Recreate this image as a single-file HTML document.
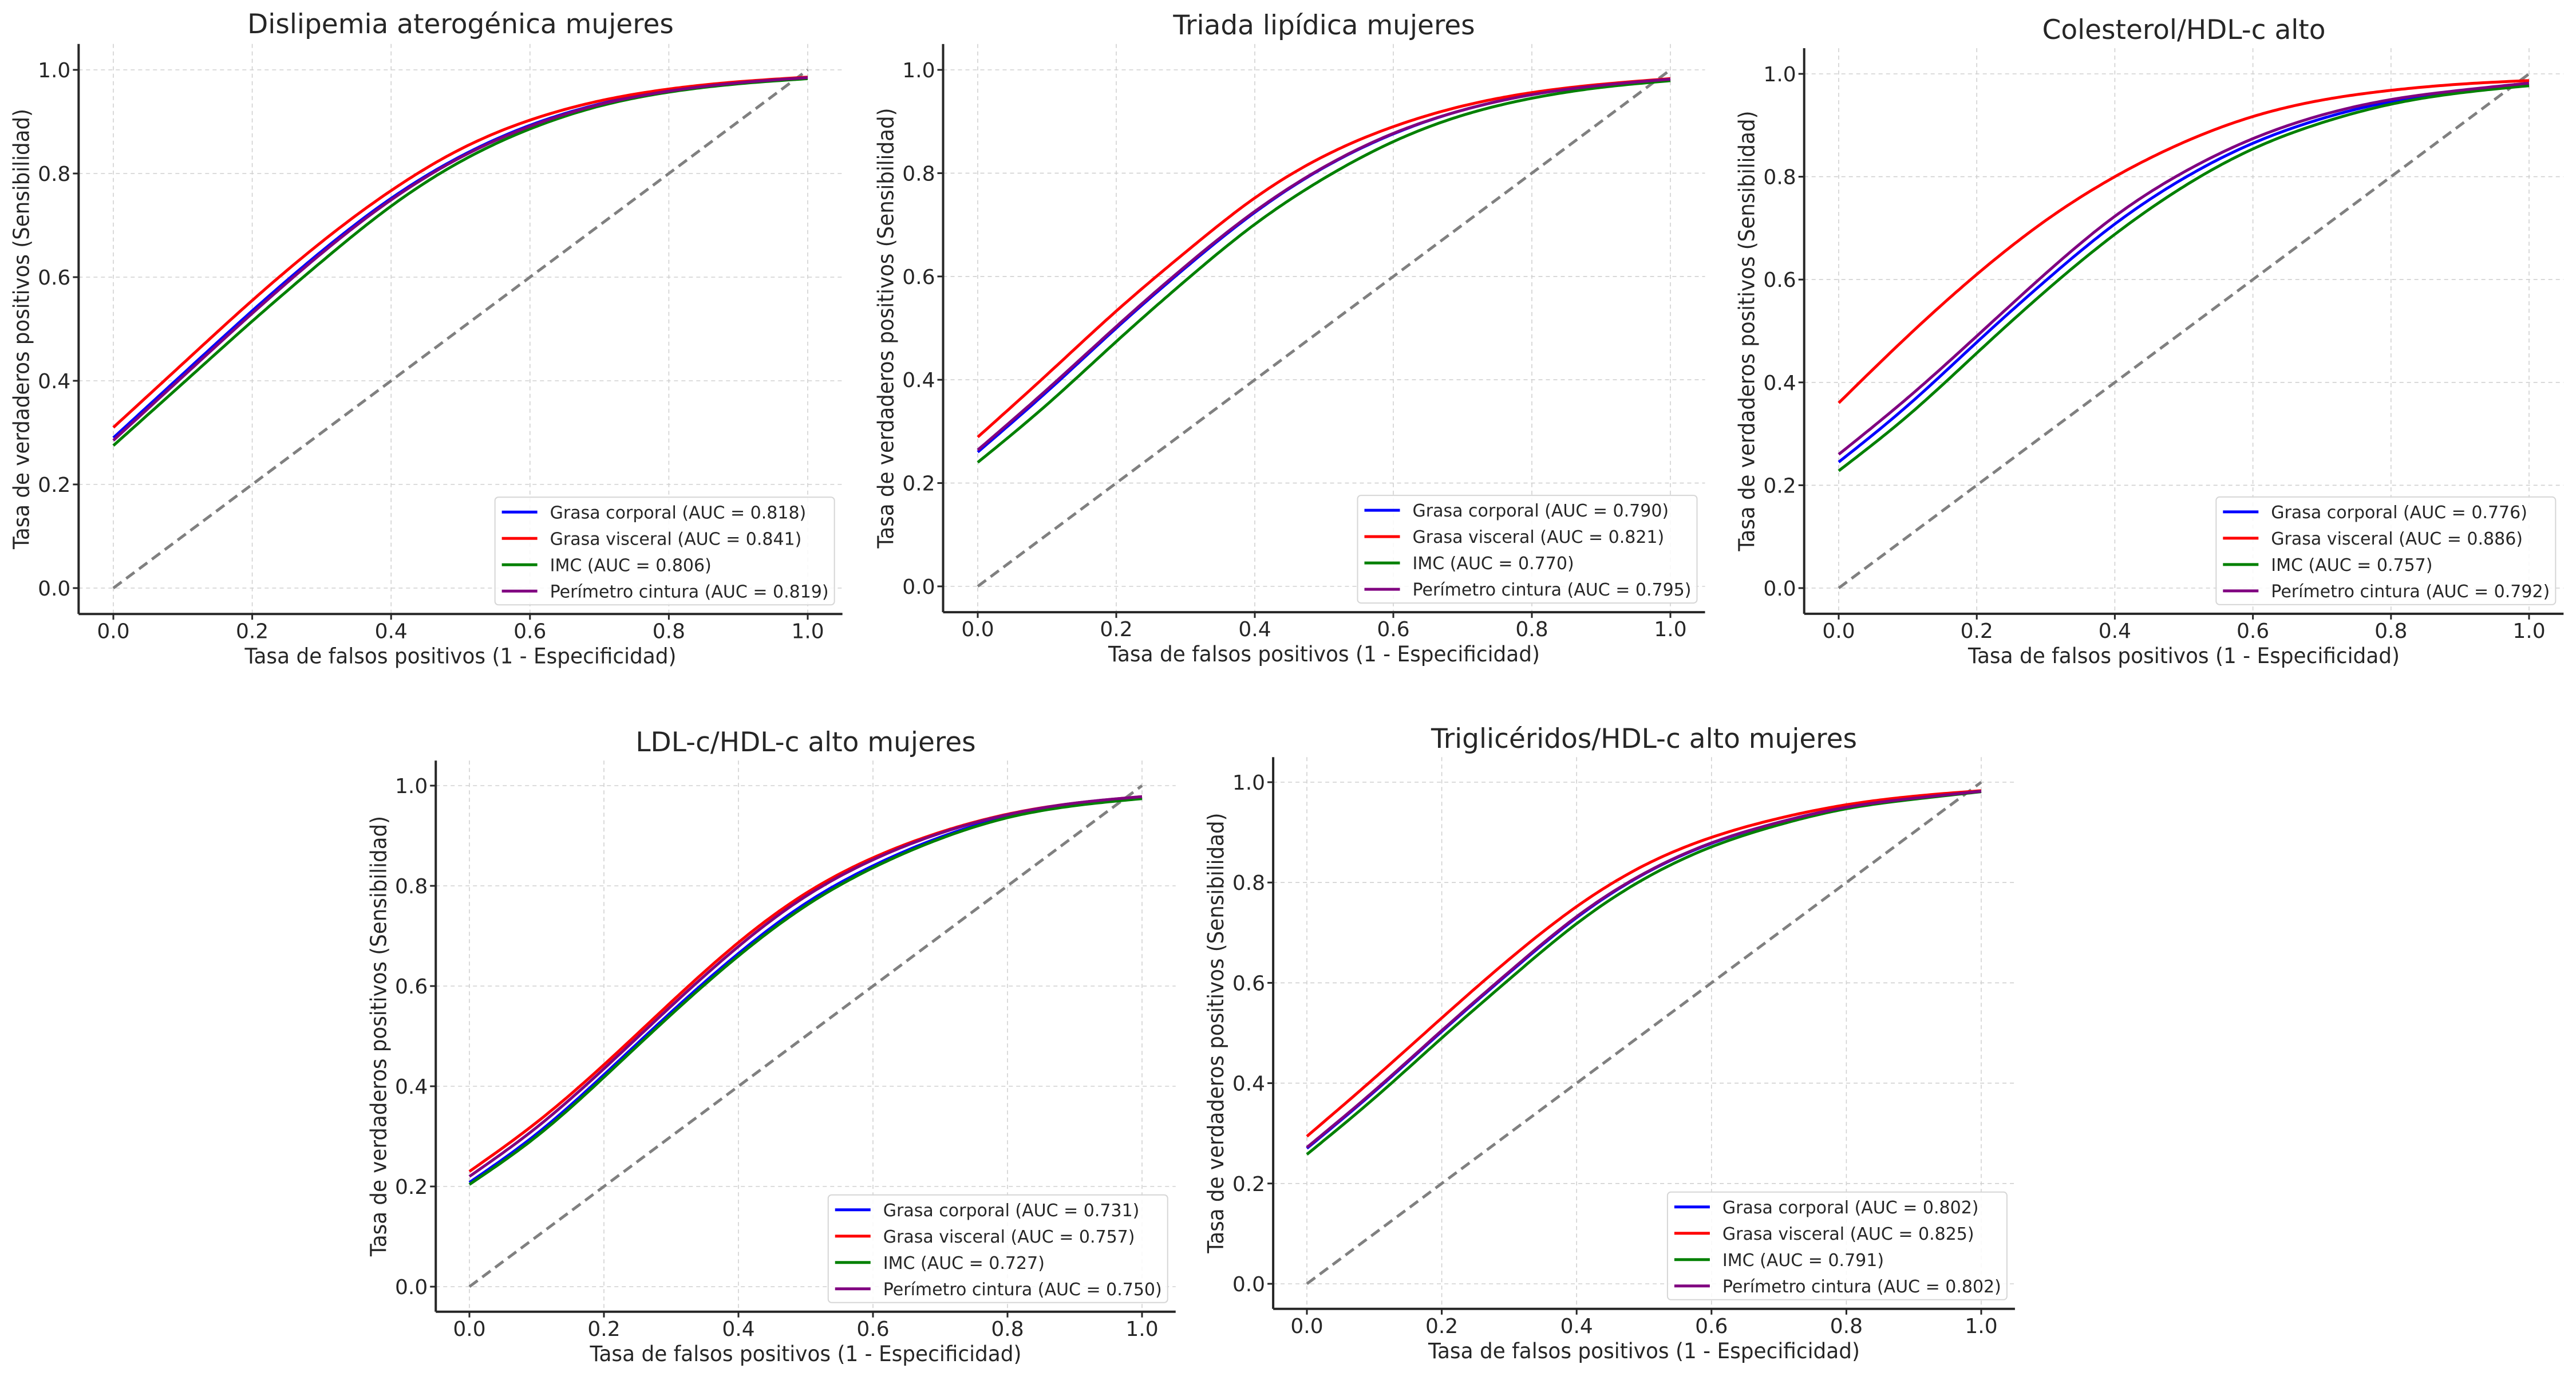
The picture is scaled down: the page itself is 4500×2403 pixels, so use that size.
<!DOCTYPE html>
<html><head><meta charset="utf-8">
<style>
html,body{margin:0;padding:0;background:#fff;}
svg{display:block;}
text{font-family:"DejaVu Sans","Liberation Sans",sans-serif;fill:#262626;}
</style></head>
<body>
<svg id="fig" width="4500" height="2403" viewBox="0 0 4500 2403" xmlns="http://www.w3.org/2000/svg"></svg>
<script>
// ---- data ----
const xGrid = [0,0.1,0.2,0.3,0.4,0.5,0.6,0.7,0.8,0.9,1.0];
const tickValues = [0,0.2,0.4,0.6,0.8,1.0];
const tickLabels = ["0.0","0.2","0.4","0.6","0.8","1.0"];
const seriesNames = ["Grasa corporal","Grasa visceral","IMC","Perímetro cintura"];
const seriesColors = ["#0000ff","#ff0000","#008000","#800080"];

const titles = ["Dislipemia aterogénica mujeres","Triada lipídica mujeres","Colesterol/HDL-c alto","LDL-c/HDL-c alto mujeres","Triglicéridos/HDL-c alto mujeres"];
const aucP1 = ["0.818","0.841","0.806","0.819"];
const aucP2 = ["0.790","0.821","0.770","0.795"];
const aucP3 = ["0.776","0.886","0.757","0.792"];
const aucP4 = ["0.731","0.757","0.727","0.750"];
const aucP5 = ["0.802","0.825","0.791","0.802"];

// panel 1
const p1Blue   = [.29,.413,.535,.65,.752,.833,.893,.934,.96,.975,.985];
const p1Red    = [.31,.433,.555,.668,.767,.847,.903,.94,.963,.977,.986];
const p1Green  = [.275,.395,.515,.63,.737,.823,.886,.93,.957,.973,.983];
const p1Purple = [.285,.408,.53,.646,.749,.831,.891,.933,.959,.975,.985];
// panel 2
const p2Blue   = [.26,.377,.5,.617,.724,.811,.876,.922,.952,.97,.982];
const p2Red    = [.289,.41,.533,.647,.752,.833,.89,.93,.956,.972,.983];
const p2Green  = [.24,.352,.474,.592,.701,.79,.861,.912,.945,.966,.979];
const p2Purple = [.264,.381,.503,.62,.726,.812,.877,.922,.952,.97,.982];
// panel 3
const p3Blue   = [.245,.355,.478,.598,.708,.797,.865,.913,.946,.966,.98];
const p3Red    = [.36,.49,.61,.715,.80,.867,.917,.949,.968,.98,.987];
const p3Green  = [.228,.335,.457,.578,.688,.781,.854,.905,.941,.963,.977];
const p3Purple = [.26,.37,.49,.612,.723,.809,.874,.92,.95,.968,.982];
// panel 4
const p4Blue   = [.208,.305,.423,.548,.665,.765,.84,.897,.938,.962,.976];
const p4Red    = [.23,.328,.443,.568,.687,.785,.856,.907,.943,.965,.978];
const p4Green  = [.204,.30,.418,.543,.66,.76,.836,.894,.936,.96,.974];
const p4Purple = [.22,.318,.435,.56,.679,.779,.852,.905,.942,.965,.978];
// panel 5
const p5Blue   = [.27,.383,.503,.62,.73,.817,.878,.92,.95,.968,.982];
const p5Red    = [.294,.41,.53,.647,.752,.834,.89,.928,.955,.972,.983];
const p5Green  = [.258,.37,.49,.607,.718,.807,.871,.915,.947,.966,.981];
const p5Purple = [.272,.385,.505,.622,.732,.818,.879,.92,.95,.968,.982];

const NS = "http://www.w3.org/2000/svg";
const svg = document.getElementById("fig");
function mk(tag, attrs, parent){
  const e = document.createElementNS(NS, tag);
  for (const k in attrs) e.setAttribute(k, attrs[k]);
  (parent||svg).appendChild(e);
  return e;
}
// natural cubic spline through points (x increasing)
function splinePath(xs, ys, X, Y){
  const n = xs.length;
  const h = [], al = [0];
  for (let i=0;i<n-1;i++) h.push(xs[i+1]-xs[i]);
  for (let i=1;i<n-1;i++) al.push(3/h[i]*(ys[i+1]-ys[i]) - 3/h[i-1]*(ys[i]-ys[i-1]));
  const l=[1], mu=[0], z=[0];
  for (let i=1;i<n-1;i++){
    l[i]=2*(xs[i+1]-xs[i-1])-h[i-1]*mu[i-1];
    mu[i]=h[i]/l[i];
    z[i]=(al[i]-h[i-1]*z[i-1])/l[i];
  }
  const c=new Array(n).fill(0), b=[], d=[];
  for (let j=n-2;j>=0;j--){
    c[j]=(j>0? z[j]-mu[j]*c[j+1] : 0);
    b[j]=(ys[j+1]-ys[j])/h[j]-h[j]*(c[j+1]+2*c[j])/3;
    d[j]=(c[j+1]-c[j])/(3*h[j]);
  }
  let path="";
  const steps=20;
  for (let j=0;j<n-1;j++){
    for (let s=(j===0?0:1);s<=steps;s++){
      const t=h[j]*s/steps;
      const yv=ys[j]+b[j]*t+c[j]*t*t+d[j]*t*t*t;
      path += (path===""?"M":" L")+X(xs[j]+t).toFixed(1)+","+Y(yv).toFixed(1);
    }
  }
  return path;
}

function drawPanel(cfg){
  const g = mk("g", {});
  
  
  const X = v => cfg.x0 + v*(cfg.x1-cfg.x0);
  const Y = v => cfg.y0 - v*(cfg.y0-cfg.y1);
  const left = X(-0.05), right = X(1.05), bottom = Y(-0.05), top = Y(1.05);

  tickValues.forEach((t,i)=>{
    const gx = mk("line",{x1:X(t),x2:X(t),y1:top,y2:bottom,stroke:"#d0d0d0","stroke-width":1.6,"stroke-dasharray":"7,6"},g);
    
    
    const gy = mk("line",{x1:left,x2:right,y1:Y(t),y2:Y(t),stroke:"#d0d0d0","stroke-width":1.6,"stroke-dasharray":"7,6"},g);
    
    
  });
  const diag = mk("line",{x1:X(0),y1:Y(0),x2:X(1),y2:Y(1),stroke:"#808080","stroke-width":5,"stroke-dasharray":"18,10"},g);
  
  
  cfg.series.forEach((vals,si)=>{
    const p = mk("path",{d:splinePath(xGrid, vals, X, Y),fill:"none",stroke:seriesColors[si],"stroke-width":5,"stroke-linejoin":"round"},g);
    
    
  });
  const sl = mk("line",{x1:left,x2:left,y1:top,y2:bottom,stroke:"#262626","stroke-width":4},g);
  
  
  const sb = mk("line",{x1:left,x2:right,y1:bottom,y2:bottom,stroke:"#262626","stroke-width":4},g);
  
  
  tickValues.forEach((t,i)=>{
    mk("line",{x1:X(t),x2:X(t),y1:bottom,y2:bottom+10,stroke:"#262626","stroke-width":3},g);
    mk("line",{x1:left-10,x2:left,y1:Y(t),y2:Y(t),stroke:"#262626","stroke-width":3},g);
    const tx = mk("text",{x:X(t),y:bottom+42,"font-size":36,"text-anchor":"middle"},g);
    tx.textContent = tickLabels[i];
    
    
    const ty = mk("text",{x:left-14,y:Y(t)+13,"font-size":36,"text-anchor":"end"},g);
    ty.textContent = tickLabels[i];
    
    
  });
  const tt = mk("text",{x:(cfg.x0+cfg.x1)/2,y:cfg.titleY+16,"font-size":47,"text-anchor":"middle"},g);
  tt.textContent = cfg.title;
  
  
  const xl = mk("text",{x:(cfg.x0+cfg.x1)/2,y:bottom+86,"font-size":37,"text-anchor":"middle",textLength:754,lengthAdjust:"spacingAndGlyphs"},g);
  xl.textContent = "Tasa de falsos positivos (1 - Especificidad)";
  
  
  const cy = (top+bottom)/2;
  const yl = mk("text",{x:0,y:0,"font-size":38,"text-anchor":"middle",textLength:769,lengthAdjust:"spacingAndGlyphs",transform:"translate("+(left-87)+","+cy+") rotate(-90)"},g);
  yl.textContent = "Tasa de verdaderos positivos (Sensibilidad)";
  
  
  const lw = 593, lh = 188;
  const lx = right - 14 - lw, ly = bottom - 16 - lh;
  const lg = mk("g",{},g);
  
  
  mk("rect",{x:lx,y:ly,width:lw,height:lh,rx:6,fill:"#ffffff","fill-opacity":0.85,stroke:"#d6d6d6","stroke-width":2},lg);
  seriesNames.forEach((n,si)=>{
    const ry = ly + 26 + si*46;
    const ent = mk("g",{},lg);
    
    
    mk("line",{x1:lx+12,x2:lx+74,y1:ry,y2:ry,stroke:seriesColors[si],"stroke-width":5},ent);
    const et = mk("text",{x:lx+96,y:ry+11,"font-size":30},ent);
    et.textContent = n+" (AUC = "+cfg.auc[si]+")";
  });
}

drawPanel({name:"panel-dislipemia",title:titles[0],x0:198,x1:1411,y0:1027,y1:122,titleY:42,auc:aucP1,series:[p1Blue,p1Red,p1Green,p1Purple]});
drawPanel({name:"panel-triada",title:titles[1],x0:1708,x1:2918,y0:1024,y1:122,titleY:44,auc:aucP2,series:[p2Blue,p2Red,p2Green,p2Purple]});
drawPanel({name:"panel-colesterol",title:titles[2],x0:3212,x1:4418,y0:1027,y1:129,titleY:52,auc:aucP3,series:[p3Blue,p3Red,p3Green,p3Purple]});
drawPanel({name:"panel-ldl",title:titles[3],x0:820,x1:1995,y0:2247,y1:1372,titleY:1296,auc:aucP4,series:[p4Blue,p4Red,p4Green,p4Purple]});
drawPanel({name:"panel-trigliceridos",title:titles[4],x0:2283,x1:3461,y0:2242,y1:1366,titleY:1290,auc:aucP5,series:[p5Blue,p5Red,p5Green,p5Purple]});
</script>
</body></html>
